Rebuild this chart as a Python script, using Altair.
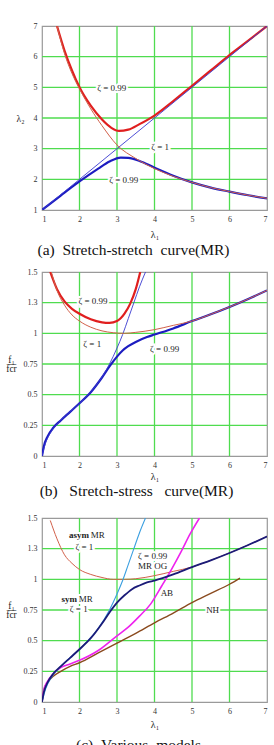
import altair as alt
import pandas as pd

FONT = "Liberation Serif, Times New Roman, serif"
NB = "\u00a0"

# ---------------- shared ticks ----------------
X_TICKS = [1, 2, 3, 4, 5, 6, 7]
A_Y_TICKS = [1, 2, 3, 4, 5, 6, 7]
BC_Y_TICKS = [0, 0.25, 0.5, 0.75, 1, 1.25, 1.5]

# ---------------- panel (a): stretch-stretch ----------------
A_RED99_X = [1.4, 1.6, 1.8, 2.0, 2.3, 2.6, 2.85, 3.05, 3.3, 3.6, 4.0, 4.5, 5.0, 5.5, 6.0, 6.5, 7.0]
A_RED99_Y = [7.0, 6.2, 5.55, 5.0, 4.4, 3.95, 3.68, 3.58, 3.62, 3.8, 4.08, 4.55, 5.05, 5.55, 6.05, 6.52, 7.0]
A_RED1_X = [1.4, 1.6, 1.8, 2.0, 2.3, 2.6, 3.0, 3.5, 4.0, 4.5, 5.0, 5.5, 6.0, 6.5, 7.0]
A_RED1_Y = [7.0, 6.1, 5.45, 4.95, 4.3, 3.75, 3.12, 2.68, 2.35, 2.1, 1.9, 1.73, 1.6, 1.48, 1.38]
A_DIAG_X = [1.0, 7.0]
A_DIAG_Y = [1.0, 7.0]
A_BLUE99_X = [1.0, 1.5, 2.0, 2.5, 2.8, 3.1, 3.3, 3.6, 4.0, 4.5, 5.0, 5.5, 6.0, 6.5, 7.0]
A_BLUE99_Y = [1.0, 1.47, 1.93, 2.35, 2.58, 2.71, 2.7, 2.6, 2.38, 2.12, 1.9, 1.73, 1.6, 1.48, 1.38]
A_LBL_X = [2.86, 4.15, 3.18]
A_LBL_Y = [4.97, 3.06, 1.97]
A_LBL_T = ["ζ = 0.99", "ζ = 1", "ζ = 0.99"]

# ---------------- panel (b): stretch-stress ----------------
B_RED99_X = [1.22, 1.4, 1.6, 1.8, 2.0, 2.3, 2.6, 2.8, 3.0, 3.2, 3.35, 3.5, 3.62]
B_RED99_Y = [1.5, 1.36, 1.26, 1.2, 1.16, 1.115, 1.09, 1.085, 1.1, 1.16, 1.24, 1.36, 1.5]
B_RED1_X = [1.25, 1.4, 1.6, 1.8, 2.0, 2.3, 2.6, 2.9, 3.2, 3.5, 4.0, 4.5, 5.0, 5.5, 6.0, 6.5, 7.0]
B_RED1_Y = [1.5, 1.35, 1.23, 1.15, 1.1, 1.05, 1.02, 1.005, 1.0, 1.008, 1.03, 1.065, 1.1, 1.155, 1.215, 1.28, 1.35]
B_BLUE1_X = [1.0, 1.1, 1.25, 1.5, 2.0, 2.5, 2.8, 3.0, 3.15, 3.3, 3.45, 3.6, 3.76]
B_BLUE1_Y = [0.0, 0.11, 0.2, 0.29, 0.43, 0.6, 0.75, 0.88, 0.99, 1.12, 1.25, 1.38, 1.5]
B_BLUE99_X = [1.0, 1.05, 1.15, 1.3, 1.5, 1.75, 2.0, 2.3, 2.6, 2.8, 3.0, 3.15, 3.3, 3.5, 3.8, 4.0, 4.5, 5.0, 5.5, 6.0, 6.5, 7.0]
B_BLUE99_Y = [0.0, 0.08, 0.16, 0.23, 0.29, 0.36, 0.43, 0.52, 0.64, 0.73, 0.81, 0.86, 0.895, 0.93, 0.97, 0.99, 1.04, 1.1, 1.155, 1.215, 1.28, 1.35]
B_LBL_X = [2.36, 2.34, 4.27]
B_LBL_Y = [1.26, 0.915, 0.87]
B_LBL_T = ["ζ = 0.99", "ζ = 1", "ζ = 0.99"]

# ---------------- panel (c): various models ----------------
C_ASYM_X = [1.22, 1.4, 1.6, 1.8, 2.0, 2.3, 2.6, 2.9, 3.2, 3.5, 4.0, 4.5, 5.0, 5.5, 6.0, 6.5, 7.0]
C_ASYM_Y = [1.48, 1.33, 1.2, 1.13, 1.08, 1.04, 1.015, 1.0, 1.0, 1.005, 1.03, 1.065, 1.1, 1.155, 1.215, 1.28, 1.35]
C_SYM_X = [1.0, 1.1, 1.25, 1.5, 2.0, 2.5, 2.8, 3.0, 3.15, 3.3, 3.45, 3.6, 3.76]
C_SYM_Y = [0.0, 0.11, 0.2, 0.29, 0.43, 0.6, 0.75, 0.88, 0.99, 1.12, 1.25, 1.38, 1.5]
C_OG_X = [1.0, 1.05, 1.15, 1.3, 1.5, 1.75, 2.0, 2.3, 2.6, 2.8, 3.0, 3.2, 3.4, 3.6, 3.8, 4.0, 4.5, 5.0, 5.5, 6.0, 6.5, 7.0]
C_OG_Y = [0.0, 0.08, 0.16, 0.23, 0.29, 0.36, 0.43, 0.52, 0.64, 0.73, 0.81, 0.87, 0.92, 0.95, 0.975, 0.99, 1.04, 1.1, 1.155, 1.215, 1.28, 1.35]
C_AB_X = [1.0, 1.05, 1.15, 1.3, 1.5, 1.75, 2.0, 2.5, 3.0, 3.3, 3.6, 3.9, 4.2, 4.45, 4.7, 4.95, 5.2]
C_AB_Y = [0.0, 0.1, 0.17, 0.23, 0.28, 0.31, 0.34, 0.42, 0.54, 0.61, 0.7, 0.8, 0.95, 1.08, 1.22, 1.37, 1.5]
C_NH_X = [1.0, 1.05, 1.15, 1.3, 1.5, 1.75, 2.0, 2.5, 3.0, 3.5, 4.0, 4.5, 5.0, 5.5, 6.0, 6.28]
C_NH_Y = [0.0, 0.1, 0.16, 0.21, 0.25, 0.29, 0.32, 0.4, 0.48, 0.56, 0.645, 0.725, 0.81, 0.885, 0.96, 1.01]
C_LBL_X = [2.30, 2.13, 3.95, 3.95, 1.98, 1.98, 4.33, 5.55]
C_LBL_Y = [1.36, 1.26, 1.19, 1.11, 0.838, 0.757, 0.885, 0.75]
C_LBL_T = ["MR", "ζ = 1", "ζ = 0.99", "MR" + NB + "OG", "MR", "ζ = 1", "AB", "NH"]
C_LBL_A = ["left", "center", "center", "center", "left", "center", "center", "center"]
C_BOLD_X = [2.25, 1.93]
C_BOLD_Y = [1.36, 0.838]
C_BOLD_T = ["asym", "sym"]

CAP_A = "(a)" + NB * 2 + "Stretch-stretch" + NB * 2 + "curve(MR)"
CAP_B = "(b)" + NB * 3 + "Stretch-stress" + NB * 3 + "curve(MR)"
CAP_C = "(c)" + NB * 2 + "Various" + NB * 2 + "models"

RED_THICK = "#e01f1f"
RED_THIN = "#d2604a"
BLUE_THICK = "#1c1cc0"
BLUE_THIN = "#3a3ad0"
NAVY = "#1b1b78"
LIGHT_BLUE = "#3a9fe0"
MAGENTA = "#ee22ee"
BROWN = "#8a4a1e"
GRID = "#4fdc4f"


def encodings(ydomain, yticks, ytitle, ytitle_x, ytitle_y, ytitle_lh, ytitle_align, xtitle_pad):
    xe = alt.X(
        "x:Q",
        scale=alt.Scale(domain=[1, 7], nice=False, zero=False),
        axis=alt.Axis(values=X_TICKS, format="d", title="λ₁", titlePadding=xtitle_pad,
                      titleFontSize=10, titleFont=FONT, titleFontWeight="normal", grid=False),
    )
    ye = alt.Y(
        "y:Q",
        scale=alt.Scale(domain=ydomain, nice=False, zero=False),
        axis=alt.Axis(values=yticks, format="~g", title=ytitle, titleAngle=0,
                      titleAlign=ytitle_align, titleBaseline="middle", titleX=ytitle_x,
                      titleY=ytitle_y, titleLineHeight=ytitle_lh, titleFontSize=9.5,
                      titleFont=FONT, titleFontWeight="normal", grid=False),
    )
    return xe, ye


def grid(xticks, yticks, xe, ye):
    xmin, xmax = min(xticks), max(xticks)
    ymin, ymax = min(yticks), max(yticks)
    vx = pd.DataFrame({"x": [t for t in xticks if xmin < t < xmax]})
    hy = pd.DataFrame({"y": [t for t in yticks if ymin < t < ymax]})
    v = alt.Chart(vx).mark_rule(color=GRID, strokeWidth=1.3).encode(x=xe)
    h = alt.Chart(hy).mark_rule(color=GRID, strokeWidth=1.3).encode(y=ye)
    return [v, h]


def curve(xs, ys, color, width, xe, ye):
    df = pd.DataFrame({"x": xs, "y": ys, "o": list(range(len(xs)))})
    return alt.Chart(df).mark_line(color=color, strokeWidth=width, clip=True,
                                   interpolate="monotone").encode(x=xe, y=ye, order="o:Q")


def labels(xs, ys, ts, xe, ye, aligns, weight="normal"):
    df = pd.DataFrame({"x": xs, "y": ys, "t": ts, "a": aligns})
    kw = dict(font=FONT, fontSize=9, fontWeight=weight, baseline="middle")
    halos, texts = [], []
    for al in ["left", "center", "right"]:
        sub = df[df["a"] == al]
        if len(sub) == 0:
            continue
        b = alt.Chart(sub)
        halos.append(b.mark_text(stroke="white", strokeWidth=4, fill="white", align=al, **kw)
                     .encode(x=xe, y=ye, text="t:N"))
        texts.append(b.mark_text(color="#222", align=al, **kw).encode(x=xe, y=ye, text="t:N"))
    return halos, texts


def caption(text, offset, dx):
    return alt.TitleParams(text=text, orient="bottom", font=FONT, fontSize=15.5,
                           fontWeight="normal", color="#111", offset=offset, dx=dx,
                           anchor="middle")


# ----- panel a -----
xa, ya = encodings([1, 7], A_Y_TICKS, "λ₂", -18, 92, 10, "right", 6)
ha, ta = labels(A_LBL_X, A_LBL_Y, A_LBL_T, xa, ya, ["center"] * 3)
panel_a = alt.layer(
    *grid(X_TICKS, A_Y_TICKS, xa, ya),
    *ha,
    curve(A_RED99_X, A_RED99_Y, RED_THICK, 2.2, xa, ya),
    curve(A_BLUE99_X, A_BLUE99_Y, BLUE_THICK, 2.2, xa, ya),
    curve(A_DIAG_X, A_DIAG_Y, BLUE_THIN, 0.9, xa, ya),
    curve(A_RED1_X, A_RED1_Y, RED_THIN, 1.0, xa, ya),
    *ta,
).properties(width=225, height=184, title=caption(CAP_A, 4, -21))

# ----- panel b -----
FRAC = ["f₁", "—", "fcr"]
xb, yb = encodings([0, 1.5], BC_Y_TICKS, FRAC, -31, 87, 4.75, "center", 2)
hb, tb = labels(B_LBL_X, B_LBL_Y, B_LBL_T, xb, yb, ["center"] * 3)
panel_b = alt.layer(
    *grid(X_TICKS, BC_Y_TICKS, xb, yb),
    *hb,
    curve(B_RED99_X, B_RED99_Y, RED_THICK, 2.2, xb, yb),
    curve(B_BLUE99_X, B_BLUE99_Y, BLUE_THICK, 2.2, xb, yb),
    curve(B_BLUE1_X, B_BLUE1_Y, BLUE_THIN, 0.9, xb, yb),
    curve(B_RED1_X, B_RED1_Y, RED_THIN, 1.0, xb, yb),
    *tb,
).properties(width=225, height=184, title=caption(CAP_B, 3, -18))

# ----- panel c -----
xc, yc = encodings([0, 1.5], BC_Y_TICKS, FRAC, -31, 87, 4.75, "center", 4)
hc, tc = labels(C_LBL_X, C_LBL_Y, C_LBL_T, xc, yc, C_LBL_A)
hcb, tcb = labels(C_BOLD_X, C_BOLD_Y, C_BOLD_T, xc, yc, ["right"] * 2, weight="bold")
panel_c = alt.layer(
    *grid(X_TICKS, BC_Y_TICKS, xc, yc),
    *hc, *hcb,
    curve(C_ASYM_X, C_ASYM_Y, RED_THIN, 1.0, xc, yc),
    curve(C_NH_X, C_NH_Y, BROWN, 1.4, xc, yc),
    curve(C_AB_X, C_AB_Y, MAGENTA, 1.6, xc, yc),
    curve(C_SYM_X, C_SYM_Y, LIGHT_BLUE, 1.1, xc, yc),
    curve(C_OG_X, C_OG_Y, NAVY, 1.8, xc, yc),
    *tc, *tcb,
).properties(width=225, height=184, title=caption(CAP_C, 9, -16))

chart = alt.vconcat(panel_a, panel_b, panel_c, spacing=62, bounds="flush").properties(
    padding={"left": 5, "top": 21, "right": 4, "bottom": 0},
    background="white",
).configure_view(stroke="#9a9a9a", strokeWidth=1.2).configure_axis(
    domain=False, ticks=False, labelFont=FONT, labelFontSize=8, labelColor="#333",
    labelPadding=5, titleColor="#222",
)

chart.save("out.html", embed_options={"renderer": "svg", "actions": False})
